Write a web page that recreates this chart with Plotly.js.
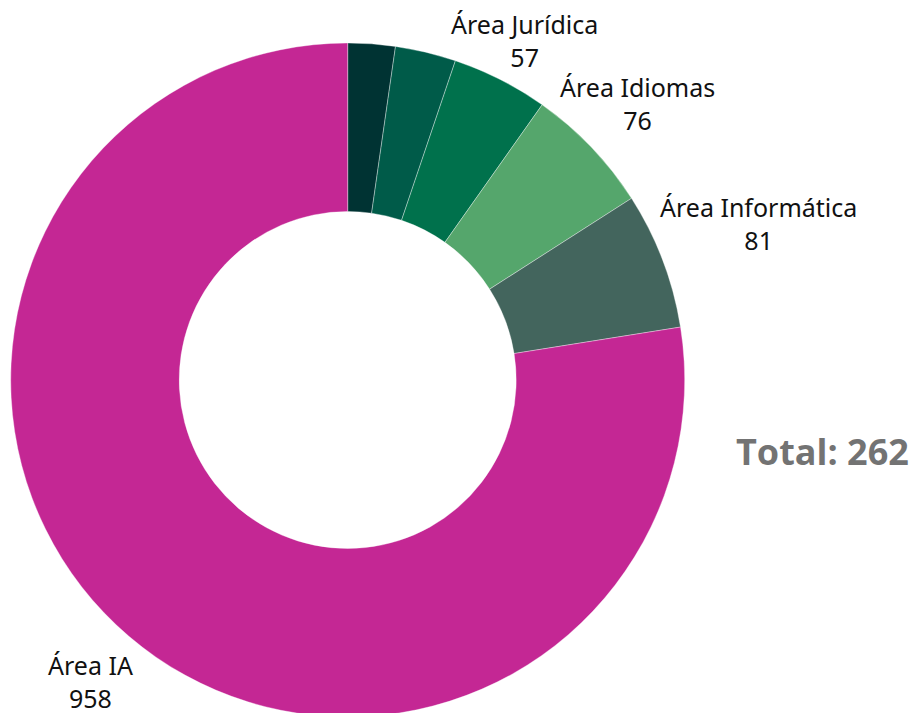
<!DOCTYPE html>
<html>
<head>
<meta charset="utf-8">
<script src="https://cdn.plot.ly/plotly-3.0.1.min.js"></script>
<style>html,body{margin:0;padding:0;background:#fff;overflow:hidden}#chart{width:915px;height:720px}</style>
</head>
<body>
<div id="chart"></div>
<script>
const labels = ["Área A", "Área B", "Área Jurídica", "Área Idiomas", "Área Informática", "Área IA"];
const values = [28, 36, 57, 76, 81, 958];
const showLabel = [false, false, true, true, true, true];
const colors = ["#003333", "#005b49", "#00714c", "#55a66c", "#43655d", "#c42794"];
const totalText = "Total: 262";

const W = 915, H = 720;
const dom = {x: [0.011, 0.749], y: [0.0042, 0.9403]};
const labelFont = "Noto Sans";
const labelSize = 25;

// geometry of the pie as Plotly lays it out in its domain
const cx = (dom.x[0] + dom.x[1]) / 2 * W;
const cy = H - (dom.y[0] + dom.y[1]) / 2 * H;
const R = Math.min((dom.x[1] - dom.x[0]) * W, (dom.y[1] - dom.y[0]) * H) / 2;

const ctx = document.createElement("canvas").getContext("2d");
ctx.font = labelSize + "px '" + labelFont + "'";

const total = values.reduce((a, b) => a + b, 0);
let cum = 0;
const annotations = [];
values.forEach((v, i) => {
  const mid = (cum + v / 2) / total * 2 * Math.PI;
  cum += v;
  if (!showLabel[i]) return;
  const lines = [labels[i], String(v)];
  const w = Math.max(...lines.map(s => ctx.measureText(s).width));
  const h = 2 * labelSize * 1.15;
  const sx = Math.sin(mid), sy = -Math.cos(mid);
  const half = Math.min((w / 2) / Math.max(Math.abs(sx), 1e-6), (h / 2) / Math.max(Math.abs(sy), 1e-6));
  const d = R + 22 + half;
  let px = cx + d * sx, py = cy + d * sy;
  py = Math.max(py, h / 2 + 12);
  py = Math.min(py, 713 - h / 2 + 2);
  annotations.push({
    text: lines.join("<br>"), xref: "paper", yref: "paper",
    x: px / W, y: (H - py) / H, xanchor: "center", yanchor: "middle",
    showarrow: false, align: "center",
    font: {family: labelFont, size: labelSize, color: "#111"}
  });
});

annotations.push({
  text: totalText, xref: "paper", yref: "paper", x: 911 / W, y: (H - 451) / H,
  xanchor: "right", yanchor: "middle", showarrow: false,
  font: {family: "'Open Sans', 'Noto Sans', sans-serif", size: 36, color: "#737373", weight: "bold"}
});

const data = [{
  type: "pie",
  labels: labels,
  values: values,
  textinfo: "none",
  hole: 0.5,
  sort: false,
  direction: "clockwise",
  rotation: 0,
  marker: {colors: colors, line: {color: "rgba(255,255,255,0.6)", width: 0.6}},
  domain: dom,
  hoverinfo: "label+value",
  showlegend: false
}];

const layout = {
  width: W, height: H,
  margin: {l: 0, r: 0, t: 0, b: 0},
  paper_bgcolor: "#fff",
  showlegend: false,
  annotations: annotations
};

Plotly.newPlot("chart", data, layout, {displayModeBar: false, staticPlot: true});
</script>
</body>
</html>
